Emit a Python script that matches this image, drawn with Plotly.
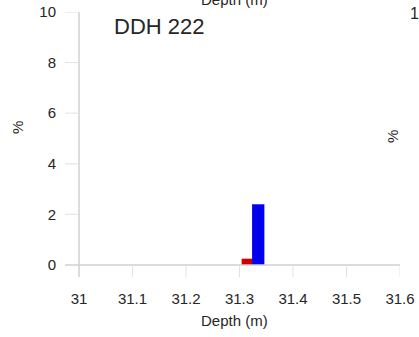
import plotly.graph_objects as go

# Sample intervals (depth in metres) and their percentages
red_depth = [31.315]
red_pct = [0.25]
blue_depth = [31.335]
blue_pct = [2.4]

x_ticks = [31, 31.1, 31.2, 31.3, 31.4, 31.5, 31.6]
x_tick_text = ["31", "31.1", "31.2", "31.3", "31.4", "31.5", "31.6"]
y_ticks = [0, 2, 4, 6, 8, 10]

W, H = 419, 337
# pixel geometry of the plotting area
px_left, px_right = 65, 400      # x-axis line extent
px_top, px_bottom = 12, 277      # y-axis line extent
x0_px, x1_px = 79, 400           # positions of 31 and 31.6
y0_px, y10_px = 265, 12          # positions of 0 and 10

xs = (31.6 - 31.0) / (x1_px - x0_px)
ys = 10.0 / (y0_px - y10_px)
x_range = [31.0 - (x0_px - px_left) * xs, 31.6]
y_range = [-(px_bottom - y0_px) * ys, 10]

font = "Liberation Sans, Arial, sans-serif"
axis_col = "#d0d0d0"
text_col = "#262626"
fs = 15

fig = go.Figure()
fig.add_trace(go.Bar(x=red_depth, y=red_pct, width=[0.022],
                     marker=dict(color="#cc0000", line=dict(width=0))))
fig.add_trace(go.Bar(x=blue_depth, y=blue_pct, width=[0.023],
                     marker=dict(color="#0000ee", line=dict(width=0))))

fig.update_layout(
    width=W, height=H,
    margin=dict(l=0, r=0, t=0, b=0, autoexpand=False),
    paper_bgcolor="white", plot_bgcolor="white",
    showlegend=False, barmode="overlay",
    font=dict(family=font, color=text_col, size=fs),
    xaxis=dict(
        domain=[px_left / W, px_right / W], range=x_range,
        tickvals=x_ticks, ticktext=x_tick_text, automargin=False,
        showgrid=False, zeroline=False, showline=False,
        ticks="", tickfont=dict(size=fs, color=text_col), ticklabelstandoff=11,
    ),
    yaxis=dict(
        domain=[1 - px_bottom / H, 1 - px_top / H], range=y_range,
        tickvals=y_ticks, showgrid=False, zeroline=False, showline=False,
        automargin=False,
        ticks="", tickfont=dict(size=fs, color=text_col), ticklabelstandoff=8,
    ),
)

# offset axis lines crossing at (31, 0)
fig.add_shape(type="line", xref="x", yref="y", x0=31, x1=31,
              y0=y_range[0], y1=10, line=dict(color=axis_col, width=1.5))
fig.add_shape(type="line", xref="x", yref="y", x0=x_range[0], x1=31.6,
              y0=0, y1=0, line=dict(color=axis_col, width=1.5))
# tick marks
for v in y_ticks[1:]:
    fig.add_shape(type="line", xref="x", yref="y", x0=x_range[0], x1=31,
                  y0=v, y1=v, line=dict(color="#e2e2e2", width=1))
for v in x_ticks[1:]:
    fig.add_shape(type="line", xref="x", yref="y", x0=v, x1=v,
                  y0=0, y1=y_range[0], line=dict(color="#e2e2e2", width=1))

def label(text, x, y, size=fs, angle=0, xanchor="center"):
    fig.add_annotation(text=text, xref="paper", yref="paper",
                       x=x / W, y=1 - y / H, xanchor=xanchor, yanchor="middle",
                       textangle=angle, showarrow=False,
                       font=dict(size=size, color=text_col))

label("DDH 222", 112, 27, size=22, xanchor="left")
label("Depth (m)", 234, 320)
label("%", 17, 128, angle=-90)
# neighbouring panel fragments at the edges
label("Depth (m)", 234, -1)
label("1", 408, 14, size=16, xanchor="left")
label("%", 393, 137, angle=-90)

fig.write_html("out.html")
